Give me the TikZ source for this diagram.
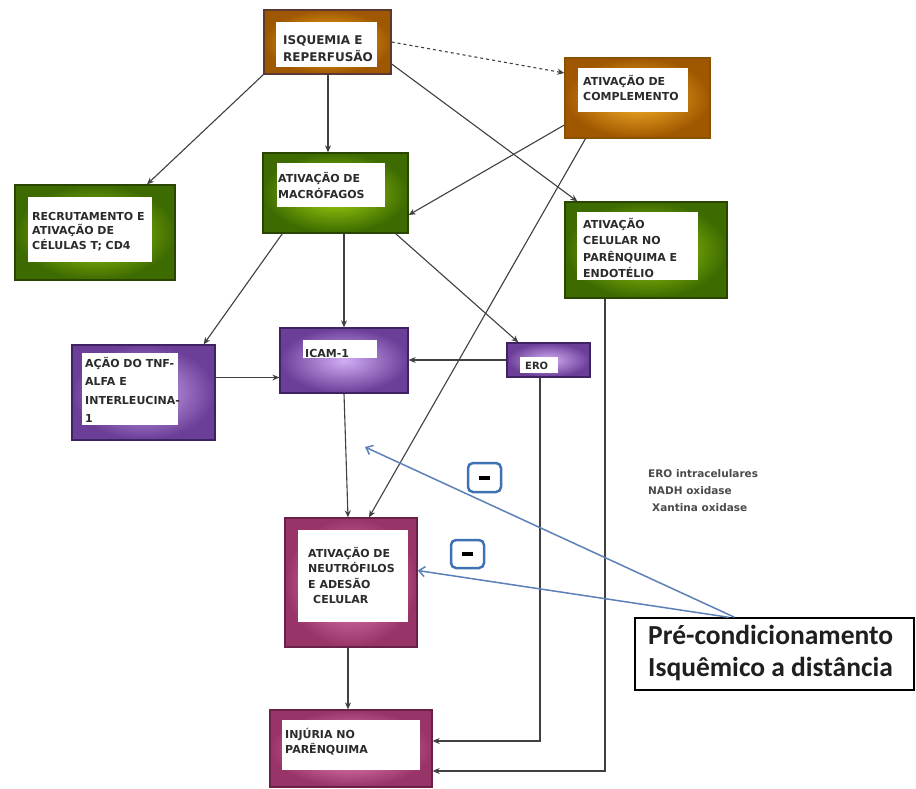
\documentclass[tikz,border=0pt]{standalone}
\usepackage{fontspec}
\setmainfont{DejaVu Sans}
\newfontfamily\prefont{Carlito}
\usetikzlibrary{arrows.meta,shadings}
\definecolor{orD}{HTML}{A05800}
\definecolor{orL}{HTML}{FFB52A}
\definecolor{orB}{HTML}{5A3A30}
\definecolor{orB2}{HTML}{8A5200}
\definecolor{grD}{HTML}{3E6B00}
\definecolor{grL}{HTML}{A6DA10}
\definecolor{grB}{HTML}{2A4500}
\definecolor{puD}{HTML}{6B3E98}
\definecolor{puL}{HTML}{D2AEF5}
\definecolor{puB}{HTML}{3F2263}
\definecolor{piD}{HTML}{993468}
\definecolor{piL}{HTML}{F792C8}
\definecolor{piB}{HTML}{6A2048}
\definecolor{txtg}{HTML}{2B2B2B}
\definecolor{lng}{HTML}{404040}
\definecolor{bln}{HTML}{5C80B8}
\definecolor{mbl}{HTML}{3F72B5}
\newcommand\mystrut{\rule{0pt}{12pt}}
\begin{document}
\begin{tikzpicture}[x=1pt,y=-1pt,
  obox/.style n args={3}{draw=#1, inner color=#3, outer color=#2, line width=1.3pt, inner sep=0pt},
  wbox/.style={fill=white, draw=none, inner sep=0pt},
  txt/.style={font=\bfseries\fontsize{11}{15}\selectfont, text=txtg, align=left, anchor=north west, inner sep=0pt},
  conn/.style={draw=lng, line width=1.1pt, -{Stealth[length=7pt,width=6pt]}},
  barrow/.style={draw=bln, line width=1.5pt, -{Straight Barb[length=6pt,width=10pt]}},
  mbox/.style={draw=mbl, line width=2.5pt, rounded corners=5pt, fill=white, minimum width=33pt, minimum height=29pt, inner sep=0pt},
  note/.style={font=\bfseries\fontsize{10.5}{17}\selectfont, text=txtg!85!white, align=left, anchor=north west, inner sep=0pt}
]
\fill[white] (0,0) rectangle (916,789);
\useasboundingbox (0,0) rectangle (916,789);

% ISQUEMIA
\node[obox={orB}{orD}{orL}, minimum width=127pt, minimum height=64pt] (isq) at (327.5,42) {};
\node[wbox, minimum width=101pt, minimum height=45pt] (isqw) at (326.5,44.5) {};
\node[txt, font=\bfseries\fontsize{12}{17}\selectfont] (isqt) at (283,32) {\mystrut ISQUEMIA E\\REPERFUSÃO};

% COMPLEMENTO
\node[obox={orB2}{orD}{orL}, minimum width=145pt, minimum height=80pt] (comp) at (637.5,98) {};
\node[wbox, minimum width=110pt, minimum height=44pt] (compw) at (633,90) {};
\node[txt] (compt) at (583,73) {\mystrut ATIVAÇÃO DE\\COMPLEMENTO};

% RECRUTAMENTO
\node[obox={grB}{grD}{grL}, minimum width=160pt, minimum height=95pt] (rec) at (95,232.5) {};
\node[wbox, minimum width=124pt, minimum height=65pt] (recw) at (90,229.5) {};
\node[txt, font=\bfseries\fontsize{11}{14.5}\selectfont] (rect) at (32,208) {\mystrut RECRUTAMENTO E\\ATIVAÇÃO DE\\CÉLULAS T; CD4};

% MACROFAGOS
\node[obox={grB}{grD}{grL}, minimum width=145pt, minimum height=80pt] (mac) at (335.5,193) {};
\node[wbox, minimum width=108pt, minimum height=44pt] (macw) at (331,185) {};
\node[txt, font=\bfseries\fontsize{11}{16}\selectfont] (mact) at (278,170) {\mystrut ATIVAÇÃO DE\\MACRÓFAGOS};

% PARENQUIMA
\node[obox={grB}{grD}{grL}, minimum width=162pt, minimum height=96pt] (par) at (646,250) {};
\node[wbox, minimum width=121pt, minimum height=68pt] (parw) at (637.5,246) {};
\node[txt, font=\bfseries\fontsize{11}{16.5}\selectfont] (part) at (583,216) {\mystrut ATIVAÇÃO\\CELULAR NO\\PARÊNQUIMA E\\ENDOTÉLIO};

% TNF
\node[obox={puB}{puD}{puL}, minimum width=143pt, minimum height=95pt] (tnf) at (143.5,392.5) {};
\node[wbox, minimum width=96pt, minimum height=72pt] (tnfw) at (130,389) {};
\node[txt, font=\bfseries\fontsize{11}{18.5}\selectfont] (tnft) at (85,355) {\mystrut AÇÃO DO TNF-\\ALFA E\\INTERLEUCINA-\\1};

% ICAM
\node[obox={puB}{puD}{puL}, minimum width=128pt, minimum height=65pt] (icam) at (344,360.5) {};
\node[wbox, minimum width=74pt, minimum height=18pt] (icamw) at (340,349) {};
\node[txt] (icamt) at (305,345) {\mystrut ICAM-1};

% ERO
\node[obox={puB}{puD}{puL}, minimum width=83pt, minimum height=34pt] (ero) at (548.5,360) {};
\node[wbox, minimum width=38pt, minimum height=16pt] (erow) at (539,365) {};
\node[txt, font=\bfseries\fontsize{10}{12}\selectfont] (erot) at (525,358) {\rule{0pt}{11pt}ERO};

% NEUTROFILOS
\node[obox={piB}{piD}{piL}, minimum width=132pt, minimum height=129pt] (neu) at (351,582.5) {};
\node[wbox, minimum width=110pt, minimum height=92pt] (neuw) at (353,576) {};
\node[txt, font=\bfseries\fontsize{11}{15.5}\selectfont] (neut) at (308,545) {\mystrut ATIVAÇÃO DE\\NEUTRÓFILOS\\E ADESÃO\\\hspace{5pt}CELULAR};

% INJURIA
\node[obox={piB}{piD}{piL}, minimum width=162pt, minimum height=77pt] (inj) at (351,748.5) {};
\node[wbox, minimum width=138pt, minimum height=50pt] (injw) at (351,745) {};
\node[txt] (injt) at (285,726) {\mystrut INJÚRIA NO\\PARÊNQUIMA};

% note
\node[note] (nt) at (648,465) {\mystrut ERO intracelulares\\NADH oxidase\\\hspace{4pt}Xantina oxidase};

% connectors
\draw[conn] (isq.south west) -- ([xshift=52pt]rec.north);
\coordinate (isqo) at ([xshift=0.5pt]isq.south);
\draw[conn] (isqo) -- (isqo |- mac.north);
\draw[conn, dashed] (isq.east) -- ([yshift=25pt]comp.west);
\draw[conn] ([yshift=-22pt]isq.east) -- ([xshift=13pt]par.north west);
\draw[conn] ([yshift=-27pt]comp.west) -- ([yshift=-22pt]mac.east);
\draw[conn] ([xshift=-52pt]comp.south) -- ([xshift=18pt]neu.north);
\draw[conn] ([xshift=20pt]mac.south west) -- ([xshift=-12pt]tnf.north east);
\draw[conn] (icam.north |- mac.south) -- (icam.north);
\draw[conn] ([xshift=-13pt]mac.south east) -- ([xshift=12pt]ero.north west);
\coordinate (tnfo) at ([yshift=15pt]tnf.east);
\draw[conn] (tnfo) -- (tnfo -| icam.west);
\draw[conn] (ero.west) -- (ero.west -| icam.east);
\draw[conn] (icam.south) -- ([xshift=-3pt]neu.north);
\coordinate (neuo) at ([xshift=-3pt]neu.south);
\draw[conn] (neuo) -- (neuo |- inj.north);
\coordinate (eroo) at ([xshift=-8.5pt]ero.south);
\coordinate (injA) at ([yshift=7.5pt]inj.east);
\draw[conn] (eroo) |- (injA);
\coordinate (paro) at ([xshift=-41pt]par.south);
\coordinate (injB) at ([yshift=-22.5pt]inj.east);
\draw[conn] (paro) |- (injB);

% pre-condicionamento
\node[draw=black, line width=1.5pt, fill=white, minimum width=279pt, minimum height=72pt, inner sep=0pt] (pre) at (774.5,654) {};
\node[font=\prefont\bfseries\fontsize{27.5}{32}\selectfont, text=black!88, align=left, anchor=north west, inner sep=0pt] (pret) at (648,622) {\rule{0pt}{22pt}Pré-condicionamento\\Isquêmico a distância};

\coordinate (bt) at (365,447);
\draw[barrow] ([xshift=-40pt]pre.north) -- (bt);
\draw[barrow] ([xshift=-46pt]pre.north) -- ([yshift=12pt]neu.east);

% minus boxes
\node[mbox] (m1) at (484.5,477.5) {\rule{11pt}{4pt}};
\node[mbox, minimum height=28pt] (m2) at (467.5,554) {\rule{11pt}{4pt}};
\end{tikzpicture}
\end{document}
